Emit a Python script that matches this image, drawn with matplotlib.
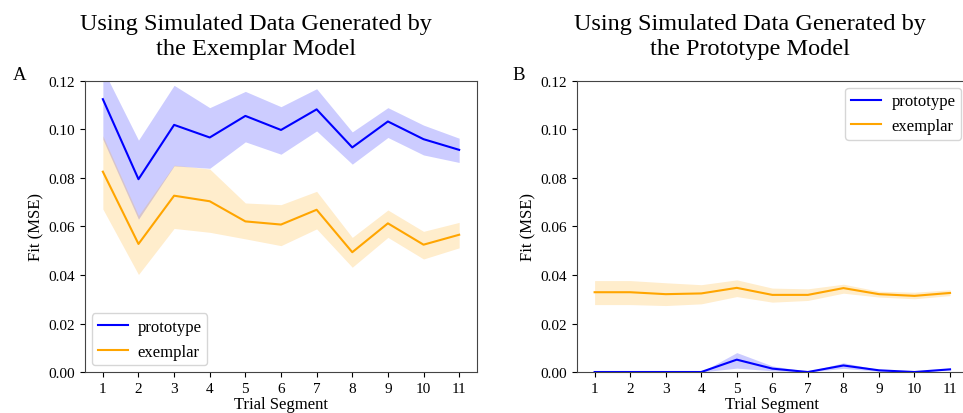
import matplotlib
matplotlib.use("Agg")
import matplotlib.pyplot as plt
import numpy as np

plt.rcParams['font.family'] = ['Liberation Serif', 'DejaVu Serif']

segments = np.arange(1, 12)

# panel A: data simulated by the exemplar model
a_proto = [0.1125, 0.0795, 0.1019, 0.0967, 0.1056, 0.0998, 0.1083, 0.0926, 0.1033, 0.0960, 0.0916]
a_proto_hi = [0.1250, 0.0956, 0.1182, 0.1090, 0.1157, 0.1094, 0.1168, 0.0990, 0.1090, 0.1018, 0.0964]
a_proto_lo = [0.0960, 0.0630, 0.0850, 0.0840, 0.0949, 0.0898, 0.0994, 0.0857, 0.0967, 0.0895, 0.0864]
a_exem = [0.0826, 0.0528, 0.0727, 0.0704, 0.0621, 0.0608, 0.0669, 0.0494, 0.0613, 0.0525, 0.0566]
a_exem_hi = [0.0974, 0.0645, 0.0853, 0.0837, 0.0697, 0.0690, 0.0745, 0.0555, 0.0668, 0.0580, 0.0617]
a_exem_lo = [0.0672, 0.0402, 0.0592, 0.0576, 0.0549, 0.0521, 0.0590, 0.0432, 0.0555, 0.0466, 0.0512]

# panel B: data simulated by the prototype model
b_proto = [0.0, 0.0, 0.0, 0.0, 0.0051, 0.0014, 0.0, 0.0027, 0.0007, 0.0, 0.0011]
b_proto_hi = [0.0, 0.0, 0.0, 0.0, 0.0080, 0.0025, 0.0002, 0.0038, 0.0010, 0.0001, 0.0013]
b_proto_lo = [0.0, 0.0, 0.0, 0.0, 0.0016, 0.0005, 0.0, 0.0015, 0.0003, 0.0, 0.0009]
b_exem = [0.0329, 0.0329, 0.0321, 0.0324, 0.0347, 0.0318, 0.0318, 0.0346, 0.0321, 0.0314, 0.0326]
b_exem_hi = [0.0377, 0.0377, 0.0368, 0.0360, 0.0380, 0.0346, 0.0343, 0.0362, 0.0333, 0.0329, 0.0339]
b_exem_lo = [0.0278, 0.0278, 0.0274, 0.0281, 0.0311, 0.0288, 0.0295, 0.0325, 0.0309, 0.0302, 0.0315]

titles = ["Using Simulated Data Generated by\nthe Exemplar Model",
          "Using Simulated Data Generated by\nthe Prototype Model"]
panel_labels = ["A", "B"]

fig = plt.figure(figsize=(9.63, 4.14), dpi=100)
ax_a = fig.add_axes([0.0883, 0.099, 0.407, 0.703])
ax_b = fig.add_axes([0.599, 0.099, 0.406, 0.703])

panels = [
    (ax_a, a_proto, a_proto_lo, a_proto_hi, a_exem, a_exem_lo, a_exem_hi, 'lower left'),
    (ax_b, b_proto, b_proto_lo, b_proto_hi, b_exem, b_exem_lo, b_exem_hi, 'upper right'),
]

for i, (ax, p, plo, phi, e, elo, ehi, loc) in enumerate(panels):
    ax.fill_between(segments, plo, phi, color='blue', alpha=0.2, linewidth=0)
    ax.plot(segments, p, color='blue', lw=1.5, label='prototype')
    ax.fill_between(segments, elo, ehi, color='orange', alpha=0.2, linewidth=0)
    ax.plot(segments, e, color='orange', lw=1.5, label='exemplar')
    ax.set_xlim(0.5, 11.5)
    ax.set_ylim(0, 0.12)
    ax.set_xticks(segments)
    ax.set_yticks(np.arange(0, 0.121, 0.02))
    ax.set_yticklabels([f"{v:.2f}" for v in np.arange(0, 0.121, 0.02)])
    ax.tick_params(labelsize=11)
    ax.set_xlabel("Trial Segment", fontsize=12, labelpad=1)
    ax.set_ylabel("Fit (MSE)", fontsize=12, labelpad=3)
    for s in ax.spines.values():
        s.set_color('#444444')
    ax.legend(loc=loc, fontsize=12, handlelength=1.8, handletextpad=0.6,
              borderpad=0.35, borderaxespad=0.4)

# titles sit a bit left of the axes centres, as in the original layout
fig.text(256 / 963, 0.965, titles[0], fontsize=17.5, ha='center', va='top', linespacing=1.2)
fig.text(750 / 963, 0.965, titles[1], fontsize=17.5, ha='center', va='top', linespacing=1.2)

fig.text(13 / 963, 0.807, panel_labels[0], fontsize=13.5, va='baseline')
fig.text(512 / 963, 0.807, panel_labels[1], fontsize=13.5, va='baseline')

fig.savefig("out.png", dpi=100)
